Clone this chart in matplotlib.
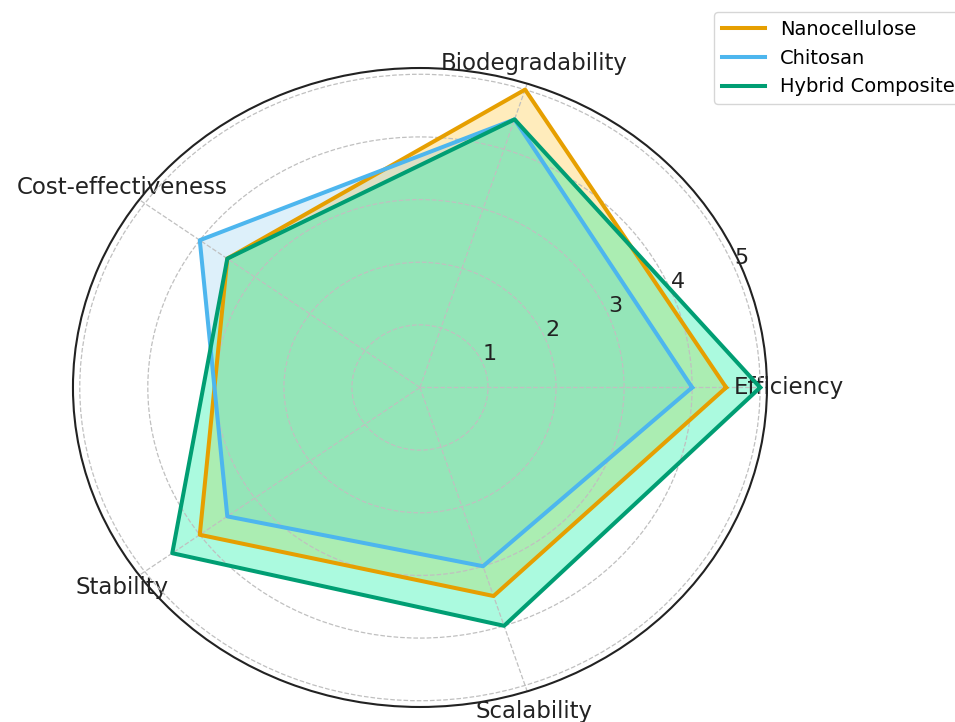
import numpy as np
import matplotlib
matplotlib.use('Agg')
import matplotlib.pyplot as plt

# criteria around the radar, counter-clockwise from the right
categories = ['Efficiency', 'Biodegradability', 'Cost-effectiveness', 'Stability', 'Scalability']

# scores
nanocellulose = [4.5, 5.0, 3.5, 4.0, 3.5]
chitosan = [4.0, 4.5, 4.0, 3.5, 3.0]
hybrid = [5.0, 4.5, 3.5, 4.5, 4.0]

series_names = ['Nanocellulose', 'Chitosan', 'Hybrid Composite']
radial_ticks = [1, 2, 3, 4, 5]

line_colors = ['#E69F00', '#4DB6EE', '#009E73']
fill_colors = ['#FFBE10', '#56B4E9', '#00F2A0']
fill_alphas = [0.28, 0.2, 0.33]

angles = np.linspace(0, 2 * np.pi, len(categories), endpoint=False).tolist()
angles += angles[:1]

fig = plt.figure(figsize=(9.55, 7.22), dpi=100)
# the reference is stretched sideways, so the polar box is not square
ax = fig.add_axes([0.0764, 0.0208, 0.7267, 0.885], polar=True)
ax.set_aspect('auto')

for name, vals, lc, fc, fa in zip(series_names, [nanocellulose, chitosan, hybrid],
                                  line_colors, fill_colors, fill_alphas):
    v = vals + vals[:1]
    ax.plot(angles, v, color=lc, linewidth=2.9, label=name)
    ax.fill(angles, v, color=fc, alpha=fa)

ax.set_ylim(0, 5.1)
ax.set_yticks(radial_ticks)
ax.set_yticklabels([str(t) for t in radial_ticks], fontsize=16, color='#222222')
ax.set_xticks(angles[:-1])
ax.set_xticklabels(categories, fontsize=16.5, color='#222222')
ax.tick_params(axis='x', pad=5)

ax.grid(True, linestyle='--', color='#c0c0c0', linewidth=0.9)
ax.spines['polar'].set_linewidth(1.5)
ax.spines['polar'].set_color('#222222')

fig.legend(loc='upper left', bbox_to_anchor=(0.7476, 0.983), fontsize=14,
           borderaxespad=0, handlelength=2.2)

fig.savefig('out.png', dpi=100)
